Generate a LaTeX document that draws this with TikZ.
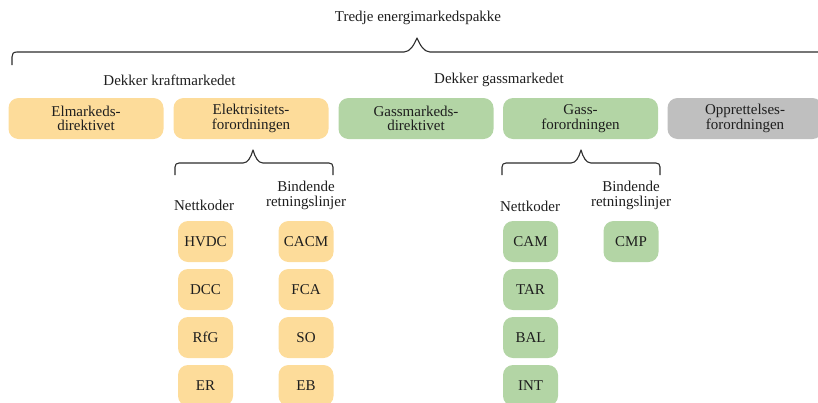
\documentclass[tikz,border=0pt]{standalone}
\usepackage{fontspec}
\setmainfont{Liberation Serif}
\definecolor{orng}{RGB}{253,220,154}
\definecolor{grn}{RGB}{179,213,165}
\definecolor{gry}{RGB}{191,191,191}
\definecolor{ink}{RGB}{30,30,30}
\definecolor{brc}{RGB}{45,45,45}
\begin{document}
\begin{tikzpicture}[x=1pt,y=-1pt,
  txt/.style={font=\fontsize{15}{14.5}\selectfont, text=ink, align=center, inner sep=0pt},
  bigbox/.style={txt, rounded corners=10pt, minimum width=155pt, minimum height=41pt},
  smallbox/.style={txt, rounded corners=10pt, minimum width=55pt, minimum height=41pt},
  twoline/.style={txt, font=\fontsize{15}{15}\selectfont},
  brace/.style={draw=brc, line width=1.1pt, line join=round}]
\clip (0,0) rectangle (818,402);
\useasboundingbox (0,0) rectangle (818,402);
% title
\node[txt] (title) at (418,18) {Tredje energimarkedspakke};
\draw[brace] (12,65) -- (12,57) .. controls (12,54) and (13,52) .. (17,52) -- (404,52)
  .. controls (410,52) and (414,45) .. (417,38) .. controls (420,45) and (424,52) .. (430,52) -- (830,52);
% group labels
\node[txt] (kraft) at (169.5,80) {Dekker kraftmarkedet};
\node[txt] (gass) at (499,80) {Dekker gassmarkedet};
% top row
\node[bigbox, fill=orng] (eldir) at (86,118.5) {Elmarkeds-\\direktivet};
\node[bigbox, fill=orng] (elfor) at (251,118.5) {Elektrisitets-\\forordningen};
\node[bigbox, fill=grn] (gasdir) at (416,118.5) {Gassmarkeds-\\direktivet};
\node[bigbox, fill=grn] (gasfor) at (580.5,118.5) {Gass-\\forordningen};
\node[bigbox, fill=gry] (oppr) at (745,118.5) {Opprettelses-\\forordningen};
% small braces
\draw[brace] (175,175) -- (175,167) .. controls (175,164.5) and (176.5,163) .. (179,163) -- (243,163)
  .. controls (248,163) and (251,157) .. (253,150) .. controls (255,157) and (258,163) .. (263,163)
  -- (329,163) .. controls (331.5,163) and (333,164.5) .. (333,167) -- (333,175);
\draw[brace] (502,175) -- (502,167) .. controls (502,164.5) and (503.5,163) .. (506,163) -- (571,163)
  .. controls (576,163) and (579,157) .. (581,150) .. controls (583,157) and (586,163) .. (591,163)
  -- (656,163) .. controls (658.5,163) and (660,164.5) .. (660,167) -- (660,175);
% sub labels
\node[txt] (nkel) at (204,205) {Nettkoder};
\node[twoline] (brel) at (306,195) {Bindende\\retningslinjer};
\node[txt] (nkgas) at (530,206) {Nettkoder};
\node[twoline] (brgas) at (631,195) {Bindende\\retningslinjer};
% electricity network codes
\node[smallbox, fill=orng] (hvdc) at (205.5,241.5) {HVDC};
\node[smallbox, fill=orng] (dcc) at (205.5,289.5) {DCC};
\node[smallbox, fill=orng] (rfg) at (205.5,337.5) {RfG};
\node[smallbox, fill=orng] (er) at (205.5,385.5) {ER};
\node[smallbox, fill=orng] (cacm) at (306,241.5) {CACM};
\node[smallbox, fill=orng] (fca) at (306,289.5) {FCA};
\node[smallbox, fill=orng] (so) at (306,337.5) {SO};
\node[smallbox, fill=orng] (eb) at (306,385.5) {EB};
% gas network codes
\node[smallbox, fill=grn] (cam) at (530.5,241.5) {CAM};
\node[smallbox, fill=grn] (tar) at (530.5,289.5) {TAR};
\node[smallbox, fill=grn] (bal) at (530.5,337.5) {BAL};
\node[smallbox, fill=grn] (int) at (530.5,385.5) {INT};
\node[smallbox, fill=grn] (cmp) at (631,241.5) {CMP};
\end{tikzpicture}
\end{document}
